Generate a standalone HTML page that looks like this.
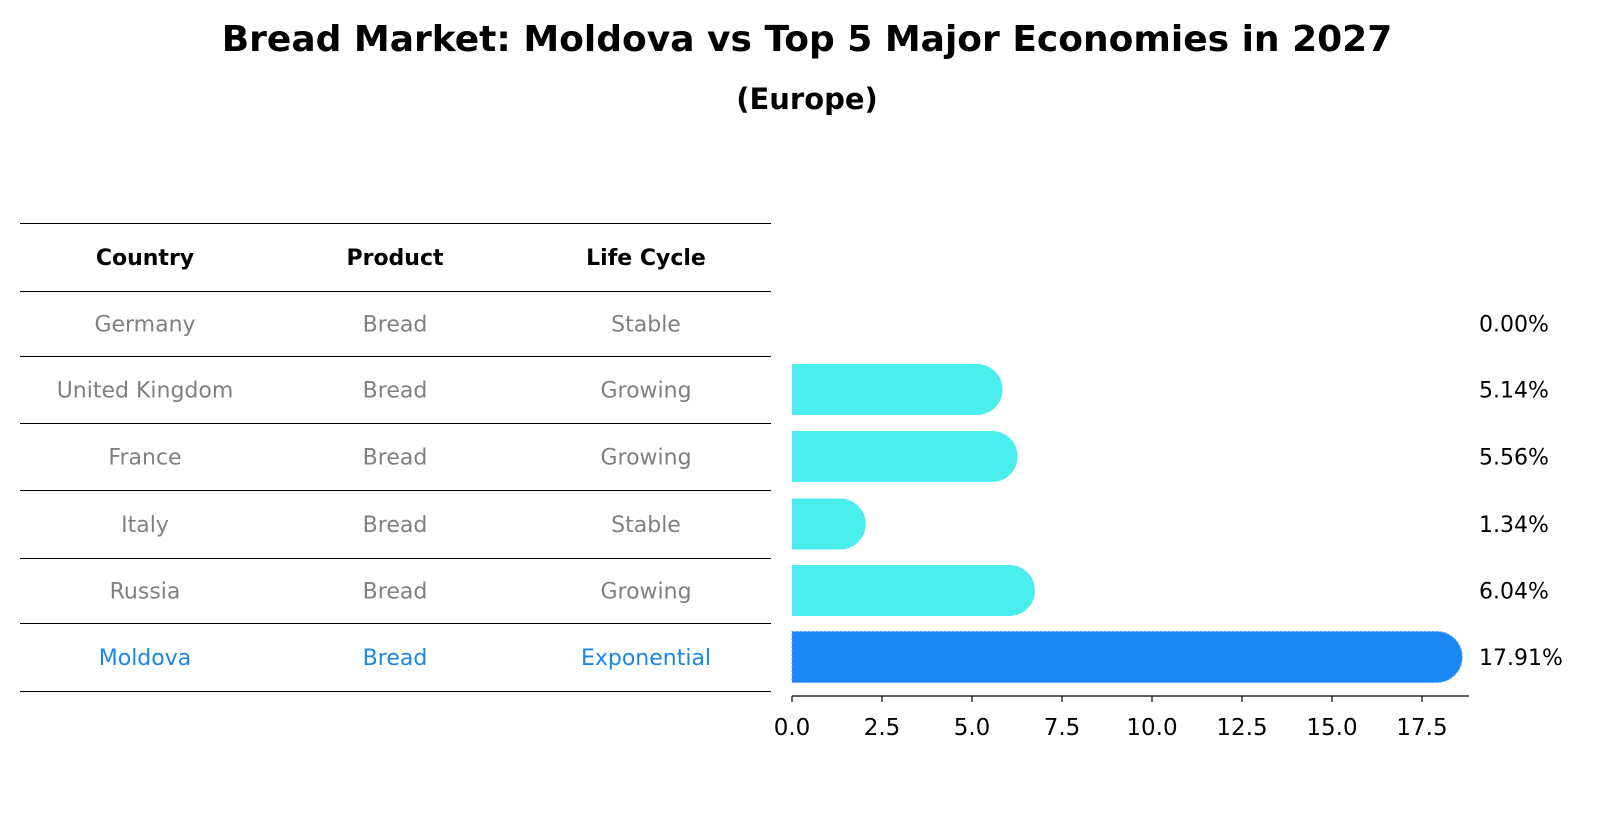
<!DOCTYPE html>
<html><head><meta charset="utf-8"><style>
body{margin:0;background:#fff;}
svg{display:block;font-family:"DejaVu Sans","Liberation Sans",sans-serif;}
</style></head><body>
<svg id="c" width="1604" height="823">
<text x="807" y="51" text-anchor="middle" font-size="36" font-weight="bold">Bread Market: Moldova vs Top 5 Major Economies in 2027</text>
<text x="807" y="109" text-anchor="middle" font-size="29" font-weight="bold">(Europe)</text>
<g id="table"></g>
<g id="bars"></g>
</svg>
<script>
const countries=["Germany","United Kingdom","France","Italy","Russia","Moldova"];
const products=["Bread","Bread","Bread","Bread","Bread","Bread"];
const lifeCycles=["Stable","Growing","Growing","Stable","Growing","Exponential"];
const values=[0.00,5.14,5.56,1.34,6.04,17.91];
const ticks=[0,2.5,5,7.5,10,12.5,15,17.5];
const NS="http://www.w3.org/2000/svg";
function mk(tag,attrs,parent,text){const e=document.createElementNS(NS,tag);for(const k in attrs)e.setAttribute(k,attrs[k]);if(text!==undefined)e.textContent=text;parent.appendChild(e);return e;}
const tbl=document.getElementById('table'),bars=document.getElementById('bars');
const lines=[223,291,356,423,490,558,623,691];
const colX=[145,395,646];
lines.forEach((y,i)=>{const l=mk('line',{x1:20,x2:771,y1:y+0.5,y2:y+0.5,stroke:'#000','stroke-width':1},tbl);

});
["Country","Product","Life Cycle"].forEach((h,j)=>{const t=mk('text',{x:colX[j],y:265,'text-anchor':'middle','font-size':22,'font-weight':'bold'},tbl,h);

});
const rowY=i=>(lines[i+1]+lines[i+2])/2;
const x0=792,ppu=36,axisY=696,bh=51,r=25.5;
const xs=v=>x0+v*ppu;
countries.forEach((c,i)=>{
 const last=i===countries.length-1;const col=last?'#1a87e8':'#808080';
 [c,products[i],lifeCycles[i]].forEach((s,j)=>{const t=mk('text',{x:colX[j],y:rowY(i)+8,'text-anchor':'middle','font-size':22,fill:col},tbl,s);
 
 });
 const cy=rowY(i),v=values[i];
 if(v>0){const xe=xs(v);
 const p=mk('path',{d:`M${x0},${cy-bh/2} L${xe},${cy-bh/2} A${r},${r} 0 0 1 ${xe},${cy+bh/2} L${x0},${cy+bh/2} Z`,fill:last?'#1a87f5':'#4aeeec',stroke:last?'#4aa8ff':'none','stroke-dasharray':'2,2','stroke-width':1},bars);
 
 }
 const t=mk('text',{x:1479,y:cy+8,'font-size':22},bars,v.toFixed(2)+'%');
 
 
});
const ax=mk('line',{x1:x0,x2:1469,y1:axisY,y2:axisY,stroke:'#000','stroke-width':1.3},bars);


ticks.forEach(tv=>{const x=xs(tv);
 const tk=mk('line',{x1:x,x2:x,y1:axisY,y2:axisY+6,stroke:'#000','stroke-width':1.2},bars);
 
 
 const t=mk('text',{x:x,y:axisY+39,'text-anchor':'middle','font-size':23},bars,tv.toFixed(1));
 
 });
</script>
</body></html>
